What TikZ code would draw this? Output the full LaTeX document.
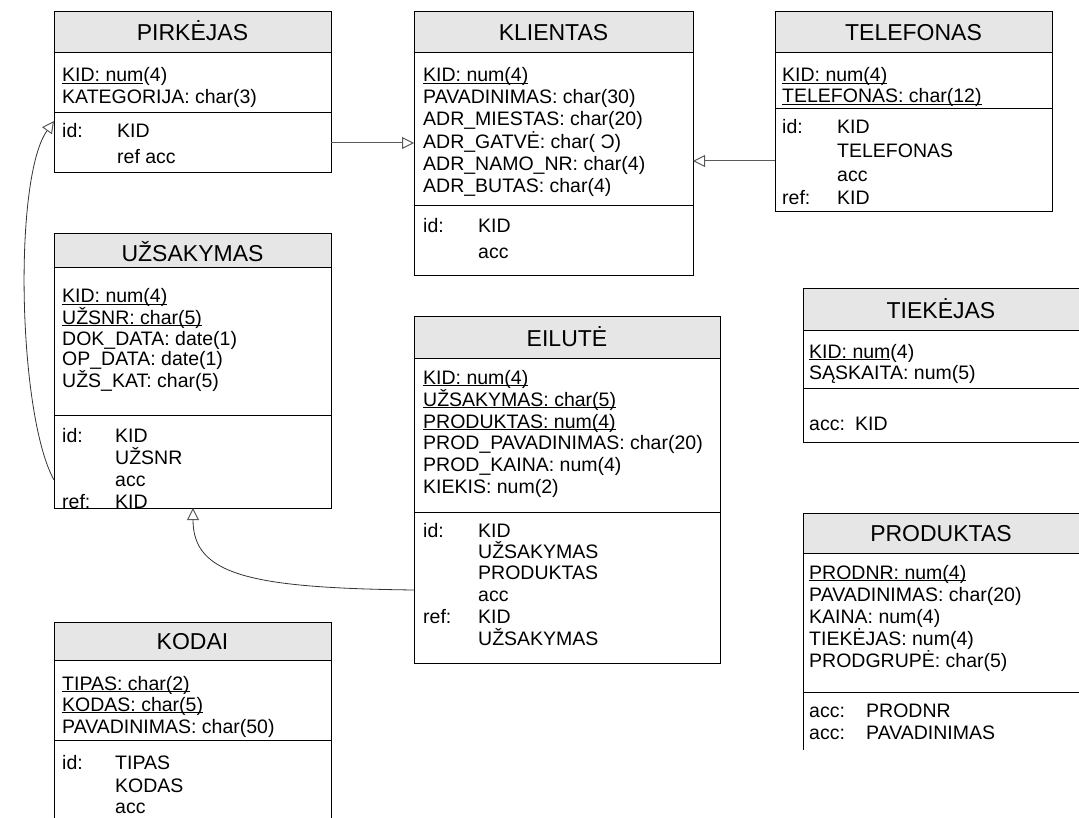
\documentclass[tikz,border=0pt]{standalone}
\usepackage{fontspec}
\setmainfont{Liberation Sans}
\usetikzlibrary{arrows.meta,calc}
\newcommand\rowf{\fontsize{19.5}{22}\selectfont}
\newcommand\ttlf{\fontsize{23}{26}\selectfont}
\newcommand\ul[1]{\setbox0\hbox{#1}\rlap{\rule[-2.2pt]{\wd0}{0.9pt}}\box0}
\definecolor{hdrc}{RGB}{230,230,230}
\definecolor{connc}{RGB}{90,90,90}
\tikzset{
  tbl/.style={draw=black, line width=1pt, anchor=north west, inner sep=0pt, outer sep=0pt},
  tline/.style={draw=black, line width=1pt},
  ttl/.style={font=\ttlf, inner sep=0pt, text height=16.5pt, text depth=0pt, anchor=center},
  row/.style={font=\rowf, anchor=west, inner sep=0pt, text height=14pt, text depth=0pt},
  conn/.style={draw=connc, line width=1pt, -{Triangle[open, length=12pt, width=12pt]}},
  curv/.style={draw=black!80, line width=0.8pt, -{Triangle[open, length=12pt, width=12pt, color=connc, line width=1pt]}}
}
\newcommand\tbox[6]{%
  \fill[hdrc] (#2,#3) rectangle ({#2+#4},{#3+#6});
  \node[tbl, minimum width=#4pt, minimum height=#5pt] (#1) at (#2,#3) {};
  \draw[tline] (#2,{#3+#6}) -- ({#2+#4},{#3+#6});
}
\newcommand\tdiv[3]{\draw[tline] (#1,#3) -- ({#1+#2},#3);}
\begin{document}
\begin{tikzpicture}[x=1pt,y=-1pt]
\useasboundingbox (0,0) rectangle (1079,818);
\clip (0,0) rectangle (1079,818);

% PIRKEJAS
\tbox{pirk}{54}{12}{277}{161}{41}
\tdiv{54}{277}{113}
\node[ttl] (pirkT) at (192.5,32.5) {PIRKĖJAS};
\node[row] (pirk1) at (62,75) {\ul{KID: num}(4)};
\node[row] (pirk2) at (62,97) {KATEGORIJA: char(3)};
\node[row] (pirk3) at (62,131) {id:};
\node[row] (pirk4) at (117,131) {KID};
\node[row] (pirk5) at (117,157) {ref acc};

% KLIENTAS
\tbox{klient}{414}{12}{279}{264}{41}
\tdiv{414}{279}{206}
\node[ttl] (klientT) at (553.5,32.5) {KLIENTAS};
\node[row] (kl1) at (423,75) {\ul{KID: num(4)}};
\node[row] (kl2) at (423,97) {PAVADINIMAS: char(30)};
\node[row] (kl3) at (423,119) {ADR\_MIESTAS: char(20)};
\node[row] (kl4) at (423,142) {ADR\_GATVĖ: char(~Ɔ)};
\node[row] (kl5) at (423,164) {ADR\_NAMO\_NR: char(4)};
\node[row] (kl6) at (423,186) {ADR\_BUTAS: char(4)};
\node[row] (kl7) at (423,226) {id:};
\node[row] (kl8) at (478,226) {KID};
\node[row] (kl9) at (478,252) {acc};

% TELEFONAS
\tbox{tel}{775}{12}{277}{200}{41}
\tdiv{775}{277}{109}
\node[ttl] (telT) at (913.5,32.5) {TELEFONAS};
\node[row] (te1) at (782,75) {\ul{KID: num(4)}};
\node[row] (te2) at (782,96) {\ul{TELEFONAS: char(12)}};
\node[row] (te3) at (782,127) {id:};
\node[row] (te4) at (837,127) {KID};
\node[row] (te5) at (837,151) {TELEFONAS};
\node[row] (te6) at (837,175) {acc};
\node[row] (te7) at (782,198) {ref:};
\node[row] (te8) at (837,198) {KID};

% UZSAKYMAS
\tbox{uzs}{54}{234}{277}{274}{34}
\tdiv{54}{277}{415}
\node[ttl] (uzsT) at (192.5,253) {UŽSAKYMAS};
\node[row] (uz1) at (62,296) {\ul{KID: num(4)}};
\node[row] (uz2) at (62,317) {\ul{UŽSNR: char(5)}};
\node[row] (uz3) at (62,338) {DOK\_DATA: date(1)};
\node[row] (uz4) at (62,359) {OP\_DATA: date(1)};
\node[row] (uz5) at (62,380) {UŽS\_KAT: char(5)};
\node[row] (uz6) at (62,435) {id:};
\node[row] (uz7) at (115,435) {KID};
\node[row] (uz8) at (115,457) {UŽSNR};
\node[row] (uz9) at (115,479) {acc};
\node[row] (uz10) at (62,501) {ref:};
\node[row] (uz11) at (115,501) {KID};

% EILUTE
\tbox{eil}{414}{317}{306}{346}{41}
\tdiv{414}{306}{512}
\node[ttl] (eilT) at (567,338) {EILUTĖ};
\node[row] (ei1) at (423,377) {\ul{KID: num(4)}};
\node[row] (ei2) at (423,399) {\ul{UŽSAKYMAS: char(5)}};
\node[row] (ei3) at (423,421) {\ul{PRODUKTAS: num(4)}};
\node[row] (ei4) at (423,442) {PROD\_PAVADINIMAS: char(20)};
\node[row] (ei5) at (423,464) {PROD\_KAINA: num(4)};
\node[row] (ei6) at (423,486) {KIEKIS: num(2)};
\node[row] (ei7) at (423,530) {id:};
\node[row] (ei8) at (478,530) {KID};
\node[row] (ei9) at (478,551) {UŽSAKYMAS};
\node[row] (ei10) at (478,572) {PRODUKTAS};
\node[row] (ei11) at (478,594) {acc};
\node[row] (ei12) at (423,616) {ref:};
\node[row] (ei13) at (478,616) {KID};
\node[row] (ei14) at (478,638) {UŽSAKYMAS};

% TIEKEJAS
\tbox{tiek}{803}{289}{278}{153}{42}
\tdiv{803}{278}{388}
\node[ttl] (tiekT) at (941,310) {TIEKĖJAS};
\node[row] (ti1) at (809,351) {\ul{KID: num}(4)};
\node[row] (ti2) at (809,372) {SĄSKAITA: num(5)};
\node[row] (ti3) at (809,423) {acc:};
\node[row] (ti4) at (855,423) {KID};

% PRODUKTAS (open at the bottom)
\fill[hdrc] (803,513) rectangle (1081,553);
\node[tbl, draw=none, minimum width=278pt, minimum height=237pt] (prod) at (803,513) {};
\draw[tline] (prod.south west) -- (prod.north west) -- (prod.north east);
\tdiv{803}{278}{553}
\tdiv{803}{278}{692}
\node[ttl] (prodT) at (941,533) {PRODUKTAS};
\node[row] (pr1) at (809,572) {\ul{PRODNR: num(4)}};
\node[row] (pr2) at (809,594) {PAVADINIMAS: char(20)};
\node[row] (pr3) at (809,616) {KAINA: num(4)};
\node[row] (pr4) at (809,638) {TIEKĖJAS: num(4)};
\node[row] (pr5) at (809,660) {PRODGRUPĖ: char(5)};
\node[row] (pr6) at (809,710) {acc:};
\node[row] (pr7) at (866,710) {PRODNR};
\node[row] (pr8) at (809,732) {acc:};
\node[row] (pr9) at (866,732) {PAVADINIMAS};

% KODAI
\tbox{kodai}{54}{622}{277}{210}{38}
\tdiv{54}{277}{740}
\node[ttl] (kodaiT) at (192.5,641) {KODAI};
\node[row] (ko1) at (62,683) {\ul{TIPAS: char(2)}};
\node[row] (ko2) at (62,704) {\ul{KODAS: char(5)}};
\node[row] (ko3) at (62,726) {PAVADINIMAS: char(50)};
\node[row] (ko4) at (62,762) {id:};
\node[row] (ko5) at (115,762) {TIPAS};
\node[row] (ko6) at (115,785) {KODAS};
\node[row] (ko7) at (115,806) {acc};

% connectors
\coordinate (y1) at (0,143);
\coordinate (y2) at (0,161);
\coordinate (y3) at (0,480);
\coordinate (y4) at (0,121);
\coordinate (y5) at (0,590);
\coordinate (x6) at (193,0);
\draw[conn] (pirk.east |- y1) -- (klient.west |- y1);
\draw[conn] (tel.west |- y2) -- (klient.east |- y2);
\draw[curv] (uzs.west |- y3) .. controls (18,415) and (13,178) .. (pirk.west |- y4);
\draw[curv] (eil.west |- y5) .. controls (250,588) and (193,575) .. (uzs.south -| x6);
\end{tikzpicture}
\end{document}
